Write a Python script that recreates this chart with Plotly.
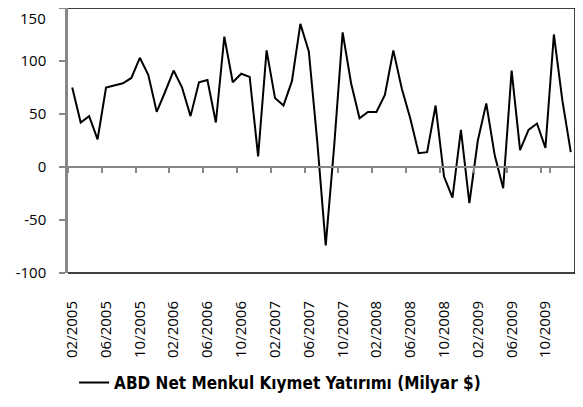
import plotly.graph_objects as go

# Monthly categories 02/2005 .. 01/2010
months = [f"{m:02d}/{y}" for y in range(2005, 2011) for m in range(1, 13)][1:61]

# ABD Net Menkul Kıymet Yatırımı (Milyar $)
values = [
    75, 42, 48, 26, 75, 77, 79, 84, 103, 87, 52,
    71, 91, 75, 48, 80, 82, 42, 123, 80, 88, 85,
    10, 110, 65, 58, 81, 135, 109, 24, -74, 20, 127,
    79, 46, 52, 52, 68, 110, 74, 46, 13, 14, 58,
    -9, -29, 35, -34, 25, 60, 11, -20, 91, 16, 35,
    41, 18, 125, 63, 14,
]

tick_labels = months[::4]
y_ticks = [-100, -50, 0, 50, 100, 150]
y_tick_text = ["-100", "-50", "0", "50", "100", ""]  # top label drawn as annotation
y_top_label = "150"
series_name = "ABD Net Menkul Kıymet Yatırımı (Milyar $)"

GRAY = "#878787"
x_tick_font = dict(family="Open Sans", size=15, color="#000000")
y_tick_font = dict(family="Open Sans", size=15, color="#000000")
x_range = [-0.5, len(months) - 0.5]

fig = go.Figure()
fig.add_trace(go.Scatter(
    x=months, y=values, mode="lines", name=series_name,
    line=dict(color="#000000", width=2),
    xaxis="x", yaxis="y",
))
# invisible copy to drive the zero-line category axis
fig.add_trace(go.Scatter(
    x=months, y=values, mode="lines", showlegend=False, hoverinfo="skip",
    line=dict(color="rgba(0,0,0,0)", width=0),
    xaxis="x2", yaxis="y",
))

border = dict(color="#000000", width=1.5)
fig.update_layout(
    width=583, height=407,
    # the page body adds an 8px offset; margins compensate for it
    margin=dict(l=60, r=16, t=0, b=142),
    paper_bgcolor="rgba(0,0,0,0)", plot_bgcolor="rgba(0,0,0,0)",
    showlegend=True,
    legend=dict(
        orientation="h", x=0.012, xanchor="left", y=-0.415, yanchor="middle",
        font=dict(family="Liberation Sans Narrow, DejaVu Sans Condensed, Liberation Sans", size=17,
                  color="#000000", weight="bold"),
        bgcolor="rgba(0,0,0,0)",
    ),
    xaxis=dict(
        type="category", tickmode="array", tickvals=tick_labels, ticktext=tick_labels,
        tickangle=-90, ticks="", showline=False, showgrid=False, zeroline=False,
        tickfont=x_tick_font, ticklabelstandoff=24, automargin=False,
        range=x_range,
    ),
    xaxis2=dict(
        type="category", overlaying="x", anchor="free", position=0.4,
        tickmode="array", tickvals=tick_labels, tickson="boundaries",
        showticklabels=False, ticks="outside", ticklen=5, tickwidth=2, tickcolor=GRAY,
        showline=True, linecolor=GRAY, linewidth=2, showgrid=False, zeroline=False,
        range=x_range, automargin=False,
    ),
    yaxis=dict(
        range=[-100, 150], tickmode="array", tickvals=y_ticks, ticktext=y_tick_text,
        ticks="outside", ticklen=6, tickwidth=1.5, tickcolor=GRAY,
        showline=True, linecolor=GRAY, linewidth=2.5, automargin=False,
        showgrid=False, zeroline=False, tickfont=y_tick_font, ticklabelstandoff=10,
        ticklabeloverflow="allow",
    ),
    annotations=[dict(
        text=y_top_label, xref="paper", yref="y", x=0, y=y_ticks[-1],
        xanchor="right", yanchor="top", xshift=-20, yshift=2, showarrow=False,
        font=y_tick_font,
    )],
    shapes=[
        dict(type="line", xref="paper", yref="paper", x0=0, x1=1, y0=1, y1=1, line=border, layer="above"),
        dict(type="line", xref="paper", yref="paper", x0=1, x1=1, y0=0, y1=1, line=border, layer="above"),
        dict(type="line", xref="paper", yref="paper", x0=0, x1=1, y0=0, y1=0, line=border, layer="above"),
    ],
)

fig.write_html("out.html")
